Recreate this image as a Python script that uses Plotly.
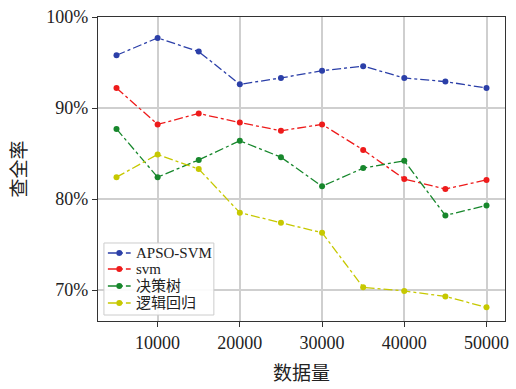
import plotly.graph_objects as go

# Sample sizes and recall (%) of each classifier
sizes = [5000, 10000, 15000, 20000, 25000, 30000, 35000, 40000, 45000, 50000]
apso_svm = [95.8, 97.7, 96.2, 92.6, 93.3, 94.1, 94.6, 93.3, 92.9, 92.2]
svm = [92.2, 88.2, 89.4, 88.4, 87.5, 88.2, 85.4, 82.2, 81.1, 82.1]
decision_tree = [87.7, 82.4, 84.3, 86.4, 84.6, 81.4, 83.4, 84.2, 78.2, 79.3]
logistic = [82.4, 84.9, 83.3, 78.5, 77.4, 76.3, 70.3, 69.9, 69.3, 68.1]

names = ["APSO-SVM", "svm", "决策树", "逻辑回归"]
colors = ["#2b3fa8", "#ee1b1b", "#17872c", "#c6c800"]
xticks = [10000, 20000, 30000, 40000, 50000]
yticks = [70, 80, 90, 100]

FONT = "Liberation Serif, Noto Sans CJK SC, serif"

fig = go.Figure()
for name, vals, col in zip(names, [apso_svm, svm, decision_tree, logistic], colors):
    fig.add_trace(go.Scatter(
        x=sizes, y=vals, name=name, mode="lines+markers",
        line=dict(color=col, width=1.3, dash="dashdot"),
        marker=dict(color=col, size=6),
        showlegend=False,
    ))

axis_common = dict(
    showline=True, linecolor="#333333", linewidth=1.2, mirror=True,
    ticks="outside", ticklen=5, tickcolor="#333333",
    showgrid=True, gridcolor="#cfcfcf", gridwidth=1.5,
    zeroline=False, tickfont=dict(family=FONT, size=18, color="#222222"),
)

# Compact legend box in the lower-left corner of the plot area
box = dict(x0=0.0146, x1=0.2847, y0=0.0197, y1=0.2566)
row_y = [0.2237, 0.1711, 0.1151, 0.0592]
line_x0, line_x1, mark_x, text_x = 0.0243, 0.0803, 0.0523, 0.0876

shapes = [dict(type="rect", xref="paper", yref="paper", layer="above",
               fillcolor="rgba(255,255,255,0.9)", line=dict(color="#cccccc", width=1),
               **box)]
annotations = []
for name, col, yy in zip(names, colors, row_y):
    shapes.append(dict(type="line", xref="paper", yref="paper", layer="above",
                       x0=line_x0, x1=line_x1, y0=yy, y1=yy,
                       line=dict(color=col, width=1.3, dash="dashdot")))
    shapes.append(dict(type="circle", xref="paper", yref="paper", layer="above",
                       xsizemode="pixel", ysizemode="pixel",
                       xanchor=mark_x, yanchor=yy, x0=-3, x1=3, y0=-3, y1=3,
                       fillcolor=col, line=dict(color=col, width=0)))
    annotations.append(dict(xref="paper", yref="paper", x=text_x, y=yy,
                            xanchor="left", yanchor="middle", showarrow=False,
                            text=name, font=dict(family=FONT, size=15, color="#222222")))

fig.update_layout(
    width=516, height=389,
    margin=dict(l=98, r=7, t=17, b=68),
    paper_bgcolor="white", plot_bgcolor="white",
    font=dict(family=FONT, color="#222222"),
    xaxis=dict(
        range=[2750, 52250], tickvals=xticks,
        ticktext=[str(v) for v in xticks],
        title=dict(text="数据量", font=dict(family=FONT, size=19), standoff=14),
        **axis_common,
    ),
    yaxis=dict(
        range=[66.6, 100], tickvals=yticks,
        ticktext=[f"{v}%" for v in yticks],
        title=dict(text="查全率", font=dict(family=FONT, size=19), standoff=14),
        **axis_common,
    ),
    shapes=shapes,
    annotations=annotations,
    showlegend=False,
)

fig.write_html("out.html")
